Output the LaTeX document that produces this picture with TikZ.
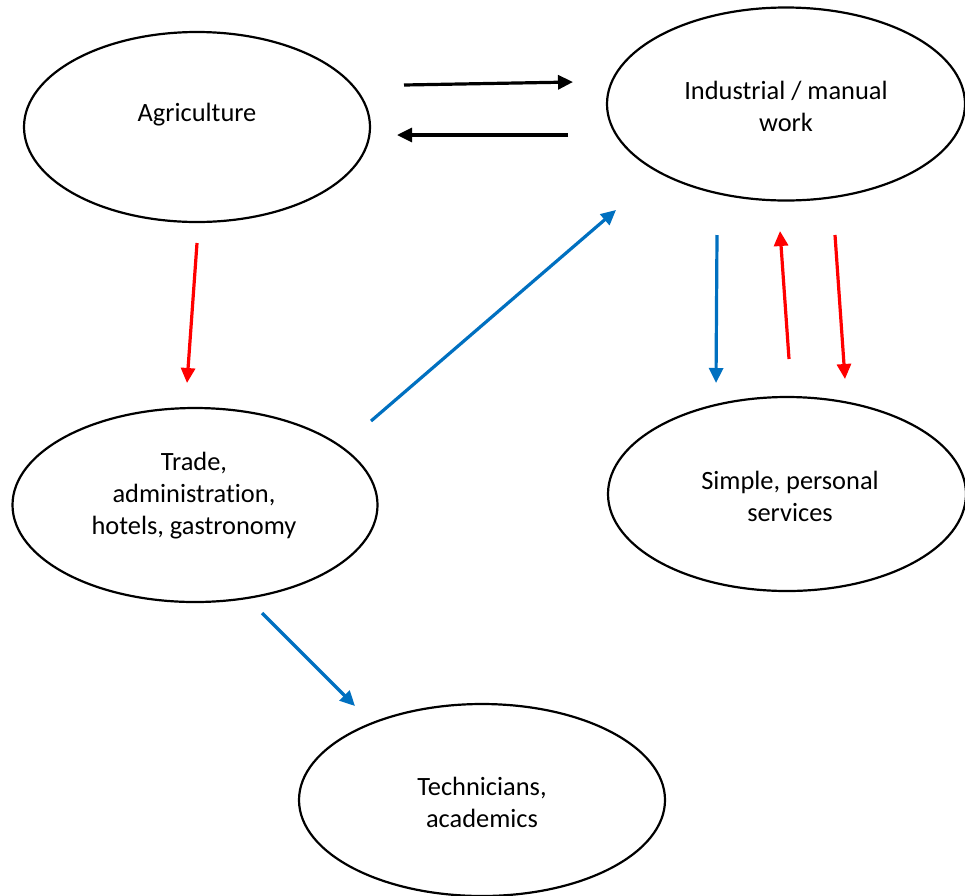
\documentclass[tikz,border=0pt]{standalone}
\usepackage{fontspec}
\setmainfont[Ligatures=NoCommon]{Carlito}
\usetikzlibrary{shapes.geometric,arrows.meta}
\definecolor{myred}{HTML}{FF0000}
\definecolor{myblue}{HTML}{0070C0}
\begin{document}
\begin{tikzpicture}[x=1pt,y=-1pt,
  sector/.style={ellipse,draw=black,line width=2.2pt,inner sep=0pt},
  lbl/.style={align=center,font=\fontsize{26.4}{32}\selectfont,inner sep=0pt},
  flow/.style={line width=3.2pt,-{Triangle[length=15pt,width=14pt]}},
  flowblack/.style={flow,draw=black},
  flowred/.style={flow,draw=myred},
  flowblue/.style={flow,draw=myblue}]
\useasboundingbox (0,0) rectangle (965,895);
% sectors
\node[sector,minimum width=346pt,minimum height=190pt] (agr) at (197,127) {};
\node[sector,minimum width=358pt,minimum height=193pt] (ind) at (786,104) {};
\node[sector,minimum width=365pt,minimum height=194pt] (trd) at (195,505) {};
\node[sector,minimum width=358pt,minimum height=194pt] (srv) at (787,494) {};
\node[sector,minimum width=366pt,minimum height=192pt] (tec) at (482,800) {};
% labels
\node[lbl] (agrT) at (197,115) {Agriculture};
\node[lbl] (indT) at (786,106) {Industrial / manual\\work};
\node[lbl] (trdT) at (194,496) {Trade,\\administration,\\hotels, gastronomy};
\node[lbl] (srvT) at (790,496) {Simple, personal\\services};
\node[lbl] (tecT) at (482,802) {Technicians,\\academics};
% arrow end points
\coordinate (a1s) at (404,85);  \coordinate (a1e) at (573,82);
\coordinate (a2s) at (568,135); \coordinate (a2e) at (397,135);
\coordinate (a3s) at (197,243); \coordinate (a3e) at (187,383);
\coordinate (a4s) at (371,421); \coordinate (a4e) at (616,210);
\coordinate (a5s) at (717,235); \coordinate (a5e) at (716,383);
\coordinate (a6s) at (789,359); \coordinate (a6e) at (780,231);
\coordinate (a7s) at (835,235); \coordinate (a7e) at (845,379);
\coordinate (a8s) at (262,613); \coordinate (a8e) at (355,706);
% arrows
\draw[flowblack] (a1s) -- (a1e);
\draw[flowblack] (a2s) -- (a2e);
\draw[flowred] (a3s) -- (a3e);
\draw[flowblue] (a4s) -- (a4e);
\draw[flowblue] (a5s) -- (a5e);
\draw[flowred] (a6s) -- (a6e);
\draw[flowred] (a7s) -- (a7e);
\draw[flowblue] (a8s) -- (a8e);
\end{tikzpicture}
\end{document}
